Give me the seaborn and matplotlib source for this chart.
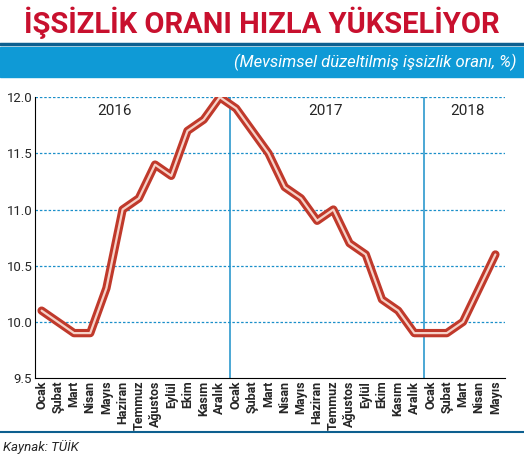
import matplotlib
matplotlib.use("Agg")
import matplotlib.pyplot as plt
import seaborn as sns
import pandas as pd

months = ["Ocak","Şubat","Mart","Nisan","Mayıs","Haziran","Temmuz","Ağustos","Eylül","Ekim","Kasım","Aralık"]
labels = months + months + months[:5]
values = [10.1,10.0,9.9,9.9,10.3,11.0,11.1,11.4,11.3,11.7,11.8,12.0,
          11.9,11.7,11.5,11.2,11.1,10.9,11.0,10.7,10.6,10.2,10.1,9.9,
          9.9,9.9,10.0,10.3,10.6]
years = ["2016","2017","2018"]
yticks = [9.5,10.0,10.5,11.0,11.5,12.0]

sns.set_style("white")
plt.rcParams['font.family'] = ['Roboto', 'DejaVu Sans']
df = pd.DataFrame({"x": range(len(values)), "y": values})

fig = plt.figure(figsize=(5.24,4.65), dpi=100)
ax = fig.add_axes([0.067,0.187,0.897,0.604])
sns.lineplot(data=df, x="x", y="y", ax=ax, color="#c0392b", lw=6, solid_capstyle="round", zorder=3)
sns.lineplot(data=df, x="x", y="y", ax=ax, color="#f6d2c8", lw=1.6, zorder=4)
for t in yticks[1:]:
    ax.axhline(t, color="#1a8fc9", ls=(0,(2,1.5)), lw=0.9, zorder=1)
for xv in [11.6, 23.6]:
    ax.axvline(xv, color="#1a8fc9", lw=1.1, zorder=2)
for xv, yr in zip([4.5, 17.5, 26.3], years):
    ax.text(xv, 11.94, yr, ha="center", va="top", fontsize=11)
ax.set_xlim(-0.4, 28.6)
ax.set_ylim(9.5, 12.0)
ax.set_yticks(yticks)
ax.set_yticklabels([f"{t:.1f}" for t in yticks], fontsize=9.5)
ax.set_xticks(range(len(labels)))
ax.set_xticklabels(labels, rotation=90, fontsize=9, fontweight="bold")
ax.set_xlabel(""); ax.set_ylabel("")
ax.tick_params(axis="both", length=0, pad=2)
for s in ["top","right"]:
    ax.spines[s].set_visible(False)
ax.spines["left"].set_color("black")
ax.spines["bottom"].set_color("black")

fig.text(0.5, 0.952, "İŞSİZLİK ORANI HIZLA YÜKSELİYOR", ha="center", va="center",
         fontsize=21, color="#c8102e", fontweight="bold")
fig.add_artist(plt.Line2D([0,1],[0.905,0.905], color="#0d5f8f", lw=2.5))
fig.add_artist(plt.Rectangle((0,0.835),1,0.064, color="#0f9ad6"))
fig.text(0.985, 0.866, "(Mevsimsel düzeltilmiş işsizlik oranı, %)", ha="right", va="center",
         fontsize=12, color="white", style="italic")
fig.add_artist(plt.Line2D([0,1],[0.07,0.07], color="#0d5f8f", lw=1.5))
fig.text(0.005, 0.038, "Kaynak: TÜİK", ha="left", va="center", fontsize=9.5, style="italic")
fig.savefig("out.png", dpi=100)
